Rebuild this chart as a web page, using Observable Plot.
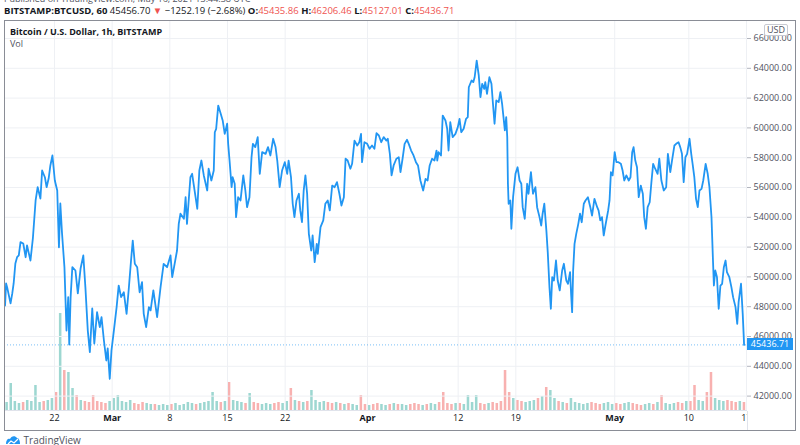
<!DOCTYPE html>
<html>
<head>
<meta charset="utf-8">
<script src="https://cdn.jsdelivr.net/npm/d3@7"></script>
<script src="https://cdn.jsdelivr.net/npm/@observablehq/plot@0.6"></script>
<style>
  html, body { margin: 0; padding: 0; background: #fff; }
  #wrap { position: relative; width: 800px; height: 445px; overflow: hidden; font-family: "Open Sans", "Noto Sans", sans-serif; color: #131722; }
  #wrap svg { position: absolute; left: 0; top: 0; }
  .abs { position: absolute; white-space: nowrap; }
</style>
</head>
<body>
<div id="wrap"></div>
<script>
// ---- Data ----
// hours since 2021-02-16 00:00 UTC
const hours = [0,3,6,16,21,25,30,35,40,45,53,60,64,74,81,89,95,103,108,116,121,127,132,138,145,152,157,161,166,173,179,184,187,191,196,205,212,220,228,234,241,247,254,260,268,276,281,288,295,299,305,310,317,325,331,338,346,354,360,367,372,378,385,392,399,404,411,419,424,432,443,453,462,472,482,487,501,506,511,521,526,530,540,545,555,560,566,572,579,589,593,601,608,611,615,621,627,634,640,647,650,654,660,663,669,673,679,686,694,700,705,712,718,722,729,736,742,749,759,766,773,781,788,793,800,807,815,822,826,833,838,843,849,856,860,865,870,875,880,885,892,896,902,908,911,919,927,933,940,946,953,960,967,974,980,987,992,998,1006,1011,1018,1026,1032,1037,1040,1047,1055,1062,1069,1076,1082,1089,1096,1103,1111,1115,1121,1126,1132,1140,1147,1152,1158,1164,1171,1176,1183,1190,1197,1203,1210,1218,1225,1231,1237,1244,1251,1257,1259,1263,1270,1275,1283,1288,1292,1297,1304,1312,1319,1324,1329,1336,1343,1348,1351,1359,1364,1368,1374,1380,1385,1390,1396,1399,1404,1411,1417,1421,1426,1431,1438,1443,1448,1451,1456,1460,1463,1465,1467,1472,1475,1480,1487,1493,1499,1504,1508,1514,1521,1525,1532,1538,1545,1550,1557,1562,1566,1571,1577,1581,1586,1590,1594,1599,1605,1610,1616,1623,1628,1635,1640,1646,1649,1652,1655,1659,1664,1670,1675,1680,1686,1691,1698,1705,1710,1717,1725,1729,1734,1739,1744,1749,1757,1761,1765,1770,1776,1781,1787,1794,1799,1804,1810,1817,1822,1827,1831,1836,1841,1846,1852,1858,1862,1867,1872,1878,1883,1888,1894,1901,1906,1912,1919,1926,1931,1938,1943,1950,1955,1962,1967,1972,1977,1982,1987,1994,1999,2003,2008,2013,2018,2023,2029,2034,2041,2047,2052,2058,2062,2065,2069,2074,2079,2084,2089,2094,2099,2103,2110,2116,2121,2128,2133,2137,2144,2149,2153];
const prices = [48080,49560,49310,48220,48890,49560,50900,51320,51440,52330,52240,51320,52110,51100,52580,55130,56020,55260,57140,56690,56020,56600,57480,58150,56470,55800,51990,54930,52910,50650,46400,48640,45460,48640,50650,50430,48890,50560,51440,49310,46400,44950,47880,45530,47630,46630,47300,45730,44390,45200,43160,45060,46400,47970,49420,48640,48970,47520,49090,51100,52440,50880,50650,48970,49650,47520,46630,47970,47750,49090,47300,49310,50880,50650,51440,49980,51770,53560,54240,53900,55350,53560,56690,56920,55350,54570,57140,57810,56810,55800,57260,56470,57140,59710,59940,61500,61050,60500,59600,60280,58930,57810,56020,56690,56250,54010,55350,55130,56810,55800,54680,55350,58030,58930,58710,59380,56920,58370,58260,58710,58150,59270,58710,57810,56020,57140,57700,56920,57810,56690,54910,54010,55130,55580,54460,53670,55800,56810,55580,52890,51770,52780,50990,52220,51550,53340,53790,54910,55130,54460,56130,56020,56360,55580,54790,55350,57930,57810,57260,57590,59150,58820,59040,59600,57700,59040,58930,58600,58820,58600,59640,59490,59040,59380,59150,59270,58260,56810,57480,57930,58030,57030,57930,58930,59200,58930,58480,58150,57700,57480,56470,55800,56580,56470,57480,57930,57810,58480,57810,58370,58150,60830,60500,59940,58480,60380,59380,59600,60050,60610,59710,59940,60610,60720,62730,63180,63070,63400,64520,63520,62060,62960,62620,63070,62290,63400,62960,61730,60280,61840,61730,62400,61620,60950,59830,60720,59380,56250,54910,55130,53230,55350,56920,57360,56470,56250,54680,53900,56250,55580,57030,55580,56020,54680,54010,53450,54240,54910,53110,51660,49310,47860,49980,49760,51100,49760,49090,50430,50880,49760,49540,50320,48870,47630,50430,52220,52890,53560,54240,53670,54910,55130,55350,54680,54120,55240,54680,54460,53790,54010,52780,53450,54460,55130,57030,56810,58370,57700,57700,57600,57140,56470,56810,56470,56690,58370,58710,57810,57360,55350,56130,55580,54010,53230,54680,55010,56360,57590,57260,56920,57930,56470,55800,56020,58260,57030,57810,58820,58930,59040,58710,58260,56360,58030,58260,59270,58260,57590,56690,55240,54680,55800,55910,56470,57590,56920,56020,54010,51320,49420,50430,49980,47860,49420,49540,50650,51100,50320,49980,49310,48640,47970,46850,48300,49540,47520,45436.71];
// volume per 12-hour block, starting 2021-02-16 00:00 UTC (BTC)
const volumes = [480,1620,540,420,480,600,540,1500,480,540,600,720,
  1080,5820,2400,2280,1320,900,
  600,540,480,900,540,480,420,540,720,900,
  540,480,600,420,360,480,420,360,360,300,360,300,360,420,
  300,360,480,420,360,420,480,540,1080,540,480,540,1680,600,
  540,480,420,1020,480,420,360,420,360,420,480,420,
  540,1320,600,540,480,540,1200,600,480,540,480,420,480,420,
  360,420,360,300,900,360,300,360,420,360,300,360,420,360,
  360,300,360,420,360,300,360,420,360,480,1080,420,360,420,
  420,360,900,480,900,420,360,420,480,420,540,2400,1080,720,
  600,540,480,540,600,720,840,1380,1200,720,540,480,420,720,
  480,420,360,420,480,420,360,420,480,360,420,360,420,480,
  420,360,300,360,420,360,480,900,420,360,420,480,420,540,
  540,1500,600,540,1080,2280,720,600,540,600,540,480,540,480];
const priceTicks = [42000,44000,46000,48000,50000,52000,54000,56000,58000,60000,62000,64000,66000];
const tickDates = ["2021-02-22","2021-03-01","2021-03-08","2021-03-15","2021-03-22","2021-04-01","2021-04-12","2021-04-19","2021-05-01","2021-05-10","2021-05-17"];
const tickLabels = ["22","Mar","8","15","22","Apr","12","19","May","10","17"];
const lastPrice = 45436.71;

// ---- Build tables ----
const T0 = Date.UTC(2021, 1, 16);
const H = 3600e3;
const priceData = hours.map((h, i) => ({date: new Date(T0 + h * H), price: prices[i]}));
const volData = volumes.map((v, i) => {
  const s = T0 + i * 12 * H, e = s + 12 * H;
  const inside = priceData.filter(d => d.date >= s && d.date <= e);
  let up = true;
  if (inside.length >= 2) up = inside[inside.length - 1].price >= inside[0].price;
  return {start: new Date(s), end: new Date(e), vol: v, color: up ? "#26a69a" : "#ef5350"};
});
const ticks = tickDates.map((d, i) => ({date: new Date(d + "T00:00:00Z"), label: tickLabels[i]}));
const xDomain = [new Date(Date.UTC(2021, 1, 15, 22, 22)), new Date(Date.UTC(2021, 4, 17))];
const FONT = "'Open Sans', 'Noto Sans', sans-serif";

const wrap = document.getElementById("wrap");

// Volume pane
const vol = Plot.plot({
  width: 800, height: 445,
  marginLeft: 4, marginRight: 54, marginTop: 310, marginBottom: 35,
  x: {type: "utc", domain: xDomain, axis: null},
  y: {domain: [0, 6000], axis: null},
  color: {type: "identity"},
  style: {background: "transparent"},
  marks: [
    Plot.rectY(volData, {x1: "start", x2: "end", y: "vol", fill: "color", fillOpacity: 0.45, insetLeft: 0.8, insetRight: 0.8})
  ]
});
wrap.appendChild(vol);

// Price pane
const chart = Plot.plot({
  width: 800, height: 445,
  marginLeft: 4, marginRight: 54, marginTop: 38, marginBottom: 34.5,
  x: {type: "utc", domain: xDomain, axis: null, label: null},
  y: {domain: [41000, 66000], axis: null, label: null},
  style: {background: "transparent", fontFamily: FONT, fontSize: "9px"},
  marks: [
    Plot.gridY(priceTicks, {stroke: "#eef0f4", strokeOpacity: 1}),
    Plot.ruleX(ticks, {x: "date", y1: 41000, y2: 67200, stroke: "#eef0f4", strokeOpacity: 1}),
    Plot.ruleY([lastPrice], {stroke: "#2196f3", strokeOpacity: 0.6, strokeDasharray: "1,2"}),
    Plot.line(priceData, {x: "date", y: "price", stroke: "#2196f3", strokeWidth: 1.8}),
    Plot.axisY(priceTicks, {anchor: "right", label: null, tickSize: 4, tickPadding: 3, stroke: "#b2b5be", fill: "#50535e", tickFormat: d => d.toFixed(2)}),
    Plot.text(ticks.filter(t => !isNaN(+t.label)), {x: "date", text: "label", frameAnchor: "bottom", dy: 10, fill: "#131722"}),
    Plot.text(ticks.filter(t => isNaN(+t.label)), {x: "date", text: "label", frameAnchor: "bottom", dy: 10, fill: "#131722", fontWeight: "bold"})
  ]
});
wrap.appendChild(chart);

const yPx = chart.scale("y").apply(lastPrice);

function addDiv(html, css) {
  const d = document.createElement("div");
  d.className = "abs";
  d.innerHTML = html;
  Object.assign(d.style, css);
  wrap.appendChild(d);
  return d;
}
// chart frame and separators
addDiv("", {left: "4px", top: "20px", width: "790px", height: "409px", border: "1px solid #8a8d96"});
addDiv("", {left: "5px", top: "410px", width: "742px", height: "0", borderTop: "1px solid #e0e3eb"});
addDiv("", {left: "747px", top: "411px", width: "47px", height: "19px", background: "#fff", borderLeft: "1px solid #e0e3eb"});
// USD badge
addDiv("USD", {left: "764px", top: "24px", fontSize: "9px", color: "#50535e", background: "#fff", border: "1px solid #c8cad2", borderRadius: "2px", padding: "0 2px", lineHeight: "10px"});
// last price label
addDiv(lastPrice.toFixed(2), {left: "747px", top: (yPx - 6) + "px", width: "46px", height: "12px", background: "#2196f3", color: "#fff", fontSize: "9px", lineHeight: "12px", textAlign: "center"});
// header
addDiv("Published on TradingView.com, May 16, 2021 13:44:38 UTC", {left: "4px", top: "-8px", fontSize: "9px", color: "#50535e"});
const red = "#ef5350";
addDiv(`<b>BITSTAMP:BTCUSD, 60</b> 45456.70 <span style="color:${red}">▼</span> −1252.19 (−2.68%) <b>O:</b><span style="color:${red}">45435.86</span> <b>H:</b><span style="color:${red}">46206.46</span> <b>L:</b><span style="color:${red}">45127.01</span> <b>C:</b><span style="color:${red}">45436.71</span>`,
  {left: "4px", top: "4px", fontSize: "9.5px", color: "#131722"});
addDiv("<b>Bitcoin / U.S. Dollar, 1h, BITSTAMP</b>", {left: "10px", top: "25px", fontSize: "9px", color: "#131722"});
addDiv("Vol", {left: "10px", top: "37px", fontSize: "9px", color: "#50535e"});
// footer brand
addDiv(`<svg width="16" height="10" viewBox="0 0 16 10" style="position:static;vertical-align:-1px"><path d="M1 9 C1 5 3 3 5 4 C6 1 10 0 12 3 C14 3 15 6 15 9 Z" fill="#2196f3"/><path d="M3 9 L6 6 L9 8 L13 4" stroke="#fff" stroke-width="1.2" fill="none"/></svg> TradingView`,
  {left: "5px", top: "433px", fontSize: "10px", color: "#50535e"});
</script>
</body>
</html>
